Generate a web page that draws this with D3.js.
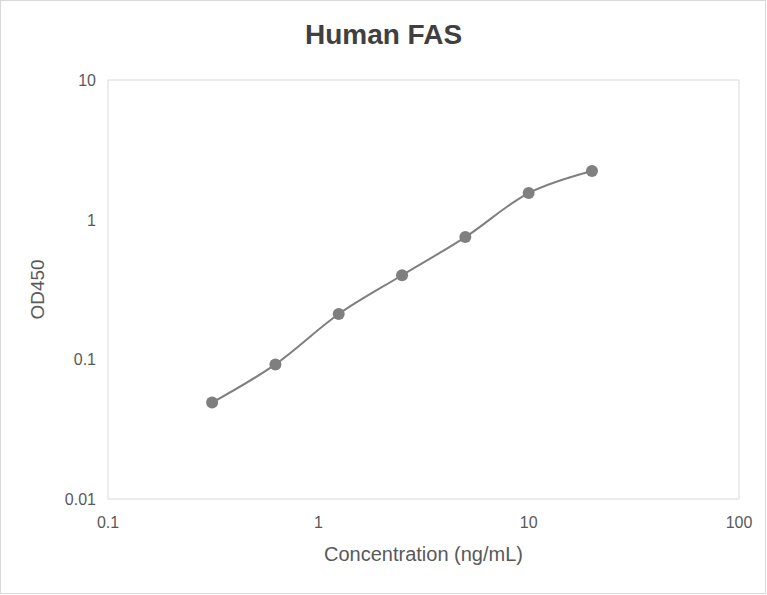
<!DOCTYPE html>
<html>
<head>
<meta charset="utf-8">
<script src="https://cdn.jsdelivr.net/npm/d3@7"></script>
<style>
body { margin: 0; background: #fff; }
text { font-family: Arial, "Liberation Sans", sans-serif; }
</style>
</head>
<body>
<script>
var concentrations = [0.3125, 0.625, 1.25, 2.5, 5, 10, 20];
var od450 = [0.049, 0.092, 0.211, 0.40, 0.75, 1.55, 2.23];
var xTicks = [0.1, 1, 10, 100];
var yTicks = [0.01, 0.1, 1, 10];

var width = 767, height = 595;
var margin = {left: 108, right: 28, top: 80, bottom: 96};

var svg = d3.select("body").append("svg")
	.attr("width", width)
	.attr("height", height);

svg.append("rect")
	.attr("x", 0.5).attr("y", 0.5)
	.attr("width", width - 2).attr("height", height - 2)
	.attr("fill", "#fff").attr("stroke", "#d9d9d9");

var x = d3.scaleLog().domain([0.1, 100]).range([margin.left, width - margin.right]);
var y = d3.scaleLog().domain([0.01, 10]).range([height - margin.bottom, margin.top]);

svg.append("rect")
	.attr("x", x(0.1)).attr("y", y(10))
	.attr("width", x(100) - x(0.1)).attr("height", y(0.01) - y(10))
	.attr("fill", "none").attr("stroke", "#d9d9d9");

svg.selectAll(".xt").data(xTicks).enter().append("text")
	.attr("x", function(d) { return x(d); })
	.attr("y", y(0.01) + 29)
	.attr("text-anchor", "middle")
	.attr("font-size", 16).attr("fill", "#595959")
	.text(function(d) { return d; });

svg.selectAll(".yt").data(yTicks).enter().append("text")
	.attr("x", x(0.1) - 12)
	.attr("y", function(d) { return y(d) + 6; })
	.attr("text-anchor", "end")
	.attr("font-size", 16).attr("fill", "#595959")
	.text(function(d) { return d; });

svg.append("text")
	.attr("x", width / 2).attr("y", 44)
	.attr("text-anchor", "middle")
	.attr("font-size", 28).attr("font-weight", "bold").attr("fill", "#404040")
	.text("Human FAS");

svg.append("text")
	.attr("x", (x(0.1) + x(100)) / 2).attr("y", 561)
	.attr("text-anchor", "middle")
	.attr("font-size", 20).attr("fill", "#595959")
	.text("Concentration (ng/mL)");

svg.append("text")
	.attr("transform", "translate(44," + ((y(0.01) + y(10)) / 2) + ") rotate(-90)")
	.attr("text-anchor", "middle")
	.attr("font-size", 19).attr("fill", "#595959")
	.text("OD450");

var pts = concentrations.map(function(c, i) { return [c, od450[i]]; });

var line = d3.line()
	.x(function(d) { return x(d[0]); })
	.y(function(d) { return y(d[1]); })
	.curve(d3.curveCatmullRom.alpha(0.5));

svg.append("path")
	.attr("d", line(pts))
	.attr("fill", "none").attr("stroke", "#7f7f7f").attr("stroke-width", 2);

svg.selectAll(".pt").data(pts).enter().append("circle")
	.attr("cx", function(d) { return x(d[0]); })
	.attr("cy", function(d) { return y(d[1]); })
	.attr("r", 6)
	.attr("fill", "#7f7f7f");
</script>
</body>
</html>
